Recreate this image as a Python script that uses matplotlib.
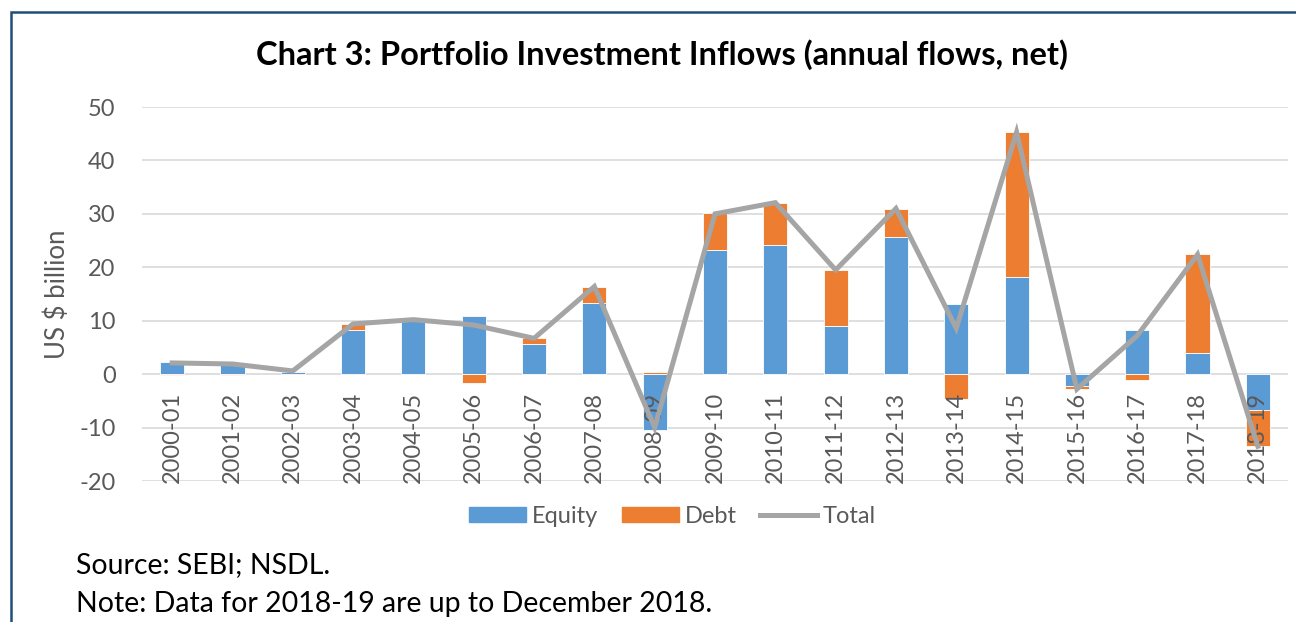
import numpy as np
import matplotlib
matplotlib.use("Agg")
import matplotlib.pyplot as plt
from matplotlib.patches import Rectangle, Patch
from matplotlib.lines import Line2D

plt.rcParams['font.family'] = ['Lato', 'DejaVu Sans']
plt.rcParams['axes.unicode_minus'] = False

# data (US $ billion)
years = ["2000-01", "2001-02", "2002-03", "2003-04", "2004-05", "2005-06", "2006-07",
         "2007-08", "2008-09", "2009-10", "2010-11", "2011-12", "2012-13", "2013-14",
         "2014-15", "2015-16", "2016-17", "2017-18", "2018-19"]
equity = [2.2, 2.0, 0.4, 8.2, 9.9, 10.9, 5.6, 13.3, -10.4, 23.2, 24.1, 9.1, 25.7,
          13.1, 18.1, -2.2, 8.3, 3.9, -6.7]
debt = [-0.1, -0.1, 0.2, 1.1, 0.3, -1.7, 1.2, 3.1, 0.4, 6.9, 8.0, 10.4, 5.3,
        -4.6, 27.2, -0.6, -1.1, 18.5, -6.8]
total = [2.1, 1.9, 0.6, 9.4, 10.2, 9.2, 6.7, 16.4, -10.0, 30.0, 32.1, 19.5, 31.0,
         8.6, 45.3, -2.8, 7.2, 22.4, -13.5]

BLUE = "#5B9BD5"
ORANGE = "#ED7D31"
GREY = "#A5A5A5"
TXT = "#595959"

fig = plt.figure(figsize=(12.96, 6.22), dpi=100)
ax = fig.add_axes([142 / 1296, 141 / 622, 1146 / 1296, 374 / 622])

x = np.arange(len(years))
eq = np.array(equity)
db = np.array(debt)
# excel stacks positives and negatives separately
debt_bottom = np.where(np.sign(db) == np.sign(eq), eq, 0)

yticks = list(range(-20, 51, 10))
for yv in yticks:
    ax.axhline(yv, color="#D9D9D9", linewidth=1.2, zorder=0.5)

ax.bar(x, eq, width=0.40, color=BLUE, edgecolor="white", linewidth=0.6, zorder=2)
ax.bar(x, db, width=0.40, bottom=debt_bottom, color=ORANGE, edgecolor="white", linewidth=0.6,
       zorder=2)
ax.plot(x, total, color=GREY, linewidth=3.6, zorder=3, solid_joinstyle="miter")

ax.set_xlim(-0.5, len(years) - 0.5)
ax.set_ylim(-20, 50)
ax.set_yticks(yticks)
ax.set_axisbelow(False)

for s in ["top", "right", "left"]:
    ax.spines[s].set_visible(False)
ax.spines["bottom"].set_position(("data", 0))
ax.spines["bottom"].set_color("none")

ax.set_xticks(x)
ax.set_xticklabels(years, rotation=90, va="top", ha="center")
ax.tick_params(axis="x", length=0, pad=13, labelsize=17, labelcolor=TXT)
ax.tick_params(axis="y", length=0, pad=19, labelsize=17, labelcolor=TXT)
ax.set_ylabel("US $ billion", fontsize=18.5, color=TXT, labelpad=7)

fig.text(0.511, 0.912, "Chart 3: Portfolio Investment Inflows (annual flows, net)",
         ha="center", va="center", fontsize=23.5, fontweight="bold", color="black")

handles = [Patch(color=BLUE), Patch(color=ORANGE), Line2D([], [], color=GREY, linewidth=3.6)]
fig.legend(handles, ["Equity", "Debt", "Total"], loc="center", bbox_to_anchor=(0.519, 0.170),
           ncol=3, frameon=False, fontsize=17, handlelength=2.4, handleheight=0.6,
           handletextpad=0.25, columnspacing=1.0, labelcolor=TXT)

fig.text(76 / 1296, 0.0916, "Source: SEBI; NSDL.", ha="left", va="center", fontsize=20.5, color="black")
fig.text(76 / 1296, 0.029, "Note: Data for 2018-19 are up to December 2018.", ha="left",
         va="center", fontsize=20.5, color="black")

# dark blue box frame around the chart
fig.patches.append(Rectangle((11 / 1296, -0.1), 1.5, (610 / 622) + 0.1, transform=fig.transFigure,
                             fill=False, edgecolor="#1F4E79", linewidth=1.8))

fig.savefig("out.png", dpi=100)
